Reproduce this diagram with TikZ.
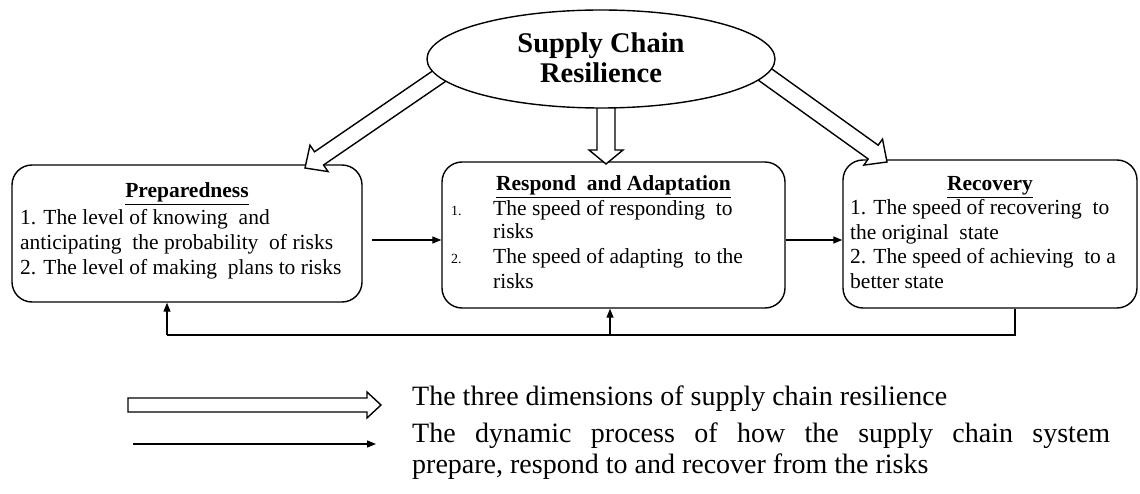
\documentclass[tikz,border=0pt]{standalone}
\usepackage{fontspec}
\setmainfont{Liberation Serif}
\usetikzlibrary{calc,shapes.geometric,arrows.meta}

% hollow block arrow: #1 start, #2 tip, #3 half shaft width, #4 half head width, #5 head length
\newcommand\blockarrow[5]{%
  \path (#1) coordinate (ba-s) (#2) coordinate (ba-e)
        ($(ba-e)!#5!(ba-s)$) coordinate (ba-h);
  \draw[blockline]
    ($(ba-s)!#3!90:(ba-e)$) -- ($(ba-h)!#3!90:(ba-e)$) --
    ($(ba-h)!#4!90:(ba-e)$) -- (ba-e) --
    ($(ba-h)!#4!-90:(ba-e)$) -- ($(ba-h)!#3!-90:(ba-e)$) --
    ($(ba-s)!#3!-90:(ba-e)$) -- cycle;}

\begin{document}
\begin{tikzpicture}[x=1pt,y=-1pt,
  outline/.style={draw=black, line width=1.4pt},
  card/.style={outline, rounded corners=20pt, inner sep=0pt},
  head/.style={font=\fontsize{21.5pt}{25pt}\selectfont\bfseries, anchor=base, inner sep=0pt},
  body/.style={font=\fontsize{21.5pt}{25pt}\selectfont, anchor=base west, inner sep=0pt},
  num/.style={font=\fontsize{14pt}{16pt}\selectfont, anchor=base west, inner sep=0pt},
  title/.style={font=\fontsize{28.5pt}{31pt}\selectfont\bfseries, anchor=base, inner sep=0pt},
  legend/.style={font=\fontsize{28pt}{31pt}\selectfont, anchor=base west, inner sep=0pt},
  flow/.style={draw=black, line width=1.3pt, -{Triangle[length=9pt,width=7pt]}},
  blockline/.style={draw=black, line width=1.4pt, fill=white, line join=miter}]

\useasboundingbox (0,0) rectangle (1140,494);

% the three dimension boxes
\node[card, minimum width=350pt, minimum height=137pt] (prep) at (187,233.5) {};
\node[card, minimum width=343pt, minimum height=146pt] (resp) at (613.5,235) {};
\node[card, minimum width=294pt, minimum height=148pt] (rec) at (990,234) {};

% Preparedness
\node[head] (prepH) at (187,198) {\underline{Preparedness}};
\node[body] (prep1) at (20,225) {1. The level of knowing \ and};
\node[body] (prep2) at (20,250) {anticipating \ the probability \ of risks};
\node[body] (prep3) at (20,275) {2. The level of making \ plans to risks};

% Respond and Adaptation
\node[head] (respH) at (613.5,191) {\underline{Respond \ and Adaptation}};
\node[num]  (respN1) at (451,216) {1.};
\node[body] (resp1) at (493,216) {The speed of responding \ to};
\node[body] (resp2) at (493,239) {risks};
\node[num]  (respN2) at (451,264) {2.};
\node[body] (resp3) at (493,264) {The speed of adapting \ to the};
\node[body] (resp4) at (493,288) {risks};

% Recovery
\node[head] (recH) at (990,191) {\underline{Recovery}};
\node[body] (rec1) at (850,215) {1. The speed of recovering \ to};
\node[body] (rec2) at (850,240) {the original \ state};
\node[body] (rec3) at (850,264) {2. The speed of achieving \ to a};
\node[body] (rec4) at (850,288) {better state};

% process arrows between the boxes
\coordinate (p1) at (372,240);
\coordinate (p2) at (800,240);
\draw[flow] (p1) -- (resp.west |- p1);
\draw[flow] (resp.east |- p2) -- (rec.west |- p2);

% feedback loop below the boxes
\coordinate (fbR) at (1015,335);
\coordinate (fbM) at (610,335);
\coordinate (fbL) at (167,335);
\draw[line width=1.3pt] (rec.south -| fbR) -- (fbR) -- (fbL);
\draw[flow] (fbL) -- (prep.south -| fbL);
\draw[flow] (fbM) -- (resp.south -| fbM);

% hollow arrows from the central concept to each dimension
\coordinate (dimLs) at (470,55);
\coordinate (dimLe) at (305,168);
\coordinate (dimMs) at (606,90);
\coordinate (dimMe) at (606,164);
\coordinate (dimRs) at (735,53);
\coordinate (dimRe) at (887,162);
\blockarrow{dimLs}{dimLe}{8pt}{16pt}{17pt}
\blockarrow{dimMs}{dimMe}{9pt}{17pt}{14pt}
\blockarrow{dimRs}{dimRe}{8.5pt}{16pt}{17pt}

% central concept
\node[ellipse, outline, fill=white, minimum width=348pt, minimum height=98pt, inner sep=0pt] (scr) at (601,59) {};
\node[title] (scr1) at (601,53) {Supply Chain};
\node[title] (scr2) at (601,83) {Resilience};

% legend
\coordinate (lg1s) at (128,405);
\coordinate (lg1e) at (381,405);
\blockarrow{lg1s}{lg1e}{7pt}{13pt}{14pt}
\coordinate (lg2s) at (133,444);
\coordinate (lg2e) at (376,444);
\draw[flow] (lg2s) -- (lg2e);
\node[legend] (lgA) at (412,405) {The three dimensions of supply chain resilience};
\node[legend] (lgB) at (412,442) {\makebox[698pt][s]{The dynamic process of how the supply chain system}};
\node[legend] (lgC) at (412,473) {prepare, respond to and recover from the risks};
\end{tikzpicture}
\end{document}
